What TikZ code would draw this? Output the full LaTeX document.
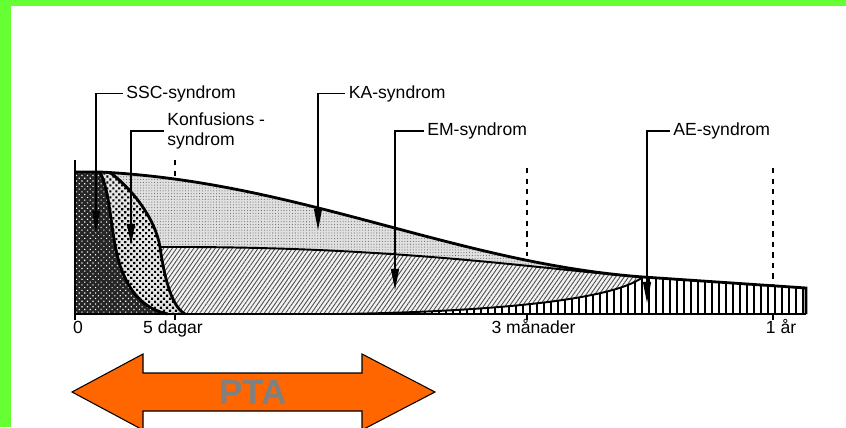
\documentclass[tikz,border=0pt]{standalone}
\usepackage{fontspec}
\setmainfont{Liberation Sans}
\usepackage{xcolor}
\usetikzlibrary{arrows.meta, patterns.meta, positioning, calc}

\definecolor{framegreen}{HTML}{66FF33}
\definecolor{ptaorange}{HTML}{FF6600}
\definecolor{ptagray}{HTML}{808080}

\begin{document}
\begin{tikzpicture}[
  font=\fontsize{10}{11}\selectfont,
  lbl/.style={anchor=west, align=left, inner sep=2pt},
  tlbl/.style={anchor=base, inner sep=0pt},
  arr/.style={-{Triangle[length=12pt, width=4.5pt]}, line width=0.8pt},
  bound/.style={line width=1.6pt},
  dashmark/.style={dashed, line width=0.8pt},
  ssc/.style={fill=black!85, postaction={pattern={Dots[distance=2.2pt, radius=0.45pt, angle=45]}, pattern color=white}},
  konf/.style={fill=black!10, postaction={pattern={Dots[distance=2.4pt, radius=0.85pt, angle=45]}, pattern color=black}},
  ka/.style={fill=black!12, postaction={pattern={Dots[distance=1.6pt, radius=0.3pt]}, pattern color=black!60}},
  em/.style={fill=black!5, postaction={pattern={Lines[angle=55, distance=2pt, line width=0.5pt]}, pattern color=black!70}},
  bar/.style={line width=0.9pt}
]
\useasboundingbox (0,0) rectangle (16.92,8.54);

% frame
\fill[framegreen] (0,8.42) rectangle (16.92,8.54);
\fill[framegreen] (0,0) rectangle (0.22,8.54);

% regions, clipped to the outer curve
\begin{scope}
  \clip (1.5,2.26) -- (1.5,5.10) -- (2.0,5.10) .. controls (6,4.9) and (9.1,3.28) .. (12.86,3.0) -- (16.12,2.78) -- (16.12,2.26) -- cycle;
  \fill[ka] (1.5,2.26) rectangle (16.12,5.5);
  \fill[em] (3.2,3.6) .. controls (8,3.62) and (10.8,3.153) .. (12.86,3.0) -- (12.86,2.26) -- (3.7,2.26) .. controls (3.45,2.4) and (3.3,2.9) .. (3.2,3.6) -- cycle;
  \begin{scope}
    \clip (6.8,2.26) .. controls (9.5,2.3) and (12.2,2.5) .. (12.86,3.0) -- (12.86,4) -- (16.12,4) -- (16.12,2.26) -- cycle;
    \fill[white] (6.8,2.26) rectangle (16.12,4);
    \foreach \x in {6.82,6.96,...,16.12}
      \draw[bar] (\x,2.26) -- (\x,4);
  \end{scope}
  \fill[konf] (2.2,5.09) .. controls (2.6,4.8) and (3.1,4.2) .. (3.2,3.6) .. controls (3.3,2.9) and (3.45,2.4) .. (3.7,2.26) -- (1.5,2.26) -- (1.5,5.5) -- (2.2,5.5) -- cycle;
  \fill[ssc] (2.0,5.10) .. controls (2.25,4.6) and (2.2,3.7) .. (2.45,3.1) .. controls (2.65,2.6) and (2.95,2.35) .. (3.35,2.26) -- (1.5,2.26) -- (1.5,5.5) -- (2.0,5.5) -- cycle;
  \draw[line width=1.1pt] (3.2,3.6) .. controls (8,3.62) and (10.8,3.153) .. (12.86,3.0);
\end{scope}

% boundaries
\draw[line width=1.1pt] (6.8,2.26) .. controls (9.5,2.3) and (12.2,2.5) .. (12.86,3.0);
\draw[bound] (2.2,5.09) .. controls (2.6,4.8) and (3.1,4.2) .. (3.2,3.6) .. controls (3.3,2.9) and (3.45,2.4) .. (3.7,2.26);
\draw[bound] (2.0,5.10) .. controls (2.25,4.6) and (2.2,3.7) .. (2.45,3.1) .. controls (2.65,2.6) and (2.95,2.35) .. (3.35,2.26);
\draw[bound] (1.5,5.10) -- (2.0,5.10) .. controls (6,4.9) and (9.1,3.28) .. (12.86,3.0) -- (16.12,2.78) -- (16.12,2.26);
\draw[line width=0.8pt] (1.5,2.26) -- (1.5,5.34);

% time axis
\coordinate (o) at (1.5,2.26);
\coordinate (d5) at (3.5,2.26);
\coordinate (m3) at (10.54,2.26);
\coordinate (y1) at (15.46,2.26);
\draw[bound] (o) -- (16.12,2.26);
\foreach \t in {o, d5, m3, y1}
  \draw[line width=0.8pt] (\t) -- ++(0,-0.12);
\node[tlbl] (l0) at (1.56,1.88) {0};
\node[tlbl] (l5) at (3.46,1.88) {5 dagar};
\node[tlbl] (l3) at (10.67,1.88) {3 månader};
\node[tlbl] (l1) at (15.62,1.88) {1 år};

% dashed time marks
\draw[dashmark] (3.5,5.34) -- (3.5,4.97);
\draw[dashmark] (10.54,5.18) -- (10.54,3.42);
\draw[dashmark] (15.46,5.18) -- (15.46,2.84);

% syndrome labels
\node[lbl] (ssc) at (2.45,6.67) {SSC-syndrom};
\node[lbl] (konf) at (3.27,5.92) {Konfusions -\\syndrom};
\node[lbl] (ka) at (6.9,6.67) {KA-syndrom};
\node[lbl] (em) at (8.47,5.92) {EM-syndrom};
\node[lbl] (ae) at (13.39,5.92) {AE-syndrom};

\coordinate (sscTip) at (1.92,3.9);
\coordinate (konfTip) at (2.62,3.64);
\coordinate (kaTip) at (6.36,3.94);
\coordinate (emTip) at (7.9,2.74);
\coordinate (aeTip) at (12.94,2.48);

\draw[arr] (ssc.west) -| (sscTip);
\draw[arr] (konf.west) -| (konfTip);
\draw[arr] (ka.west) -| (kaTip);
\draw[arr] (em.west) -| (emTip);
\draw[arr] (ae.west) -| (aeTip);

% PTA arrow
\draw[fill=ptaorange, line width=0.6pt] (1.44,0.70) -- (2.86,1.46) -- (2.86,1.08) -- (7.24,1.08) -- (7.24,1.46) -- (8.70,0.70) -- (7.24,-0.06) -- (7.24,0.32) -- (2.86,0.32) -- (2.86,-0.06) -- cycle;
\node[font=\fontsize{20}{22}\selectfont\bfseries, text=ptagray] (pta) at (5.06,0.70) {PTA};
\end{tikzpicture}
\end{document}
